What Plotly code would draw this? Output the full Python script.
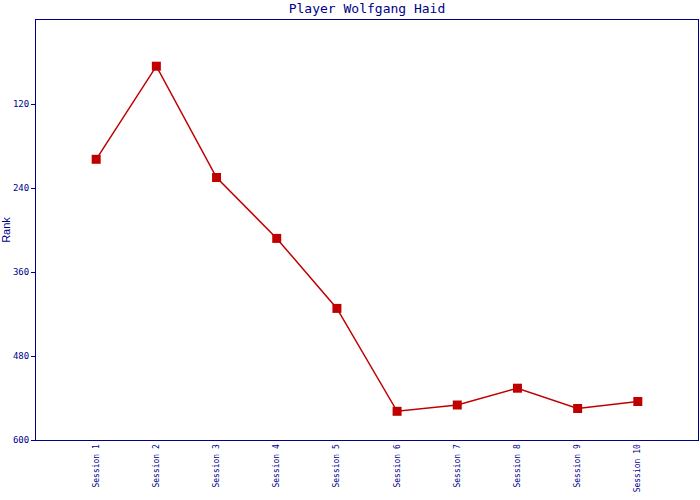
import plotly.graph_objects as go

sessions = ["Session 1", "Session 2", "Session 3", "Session 4", "Session 5",
            "Session 6", "Session 7", "Session 8", "Session 9", "Session 10"]
ranks = [199, 66, 225, 312, 412, 559, 550, 526, 555, 545]
y_ticks = [120, 240, 360, 480, 600]

navy = "#00008B"
red = "#C00000"

fig = go.Figure()
fig.add_trace(go.Scatter(
    x=list(range(len(sessions))), y=ranks, mode="lines+markers",
    line=dict(color=red, width=1.5),
    marker=dict(symbol="square", size=9, color=red),
    showlegend=False,
))

fig.update_layout(
    width=700, height=500,
    margin=dict(l=36, r=2, t=20, b=60),
    paper_bgcolor="white", plot_bgcolor="white",
    title=dict(text="Player Wolfgang Haid", xref="paper", x=0.5, xanchor="center",
               y=0.993, yanchor="top", pad=dict(t=0, b=0),
               font=dict(family="DejaVu Sans Mono", size=13, color=navy), automargin=False),
    xaxis=dict(
        range=[-1, 10], tickmode="array", tickvals=list(range(len(sessions))), ticktext=sessions,
        tickangle=-90, tickfont=dict(family="DejaVu Sans Mono", size=8, color=navy),
        showgrid=False, zeroline=False, showline=True, linecolor=navy, linewidth=1, mirror=True,
        ticks="", automargin=False,
    ),
    yaxis=dict(
        range=[600, 0], tickmode="array", tickvals=y_ticks,
        tickfont=dict(family="DejaVu Sans Mono", size=9, color=navy),
        showgrid=False, zeroline=False, showline=True, linecolor=navy, linewidth=1, mirror=True,
        ticks="outside", ticklen=4, tickcolor=navy, automargin=False,
        title=dict(text="Rank", font=dict(family="Liberation Sans", size=11, color=navy), standoff=4),
    ),
)

fig.write_html("out.html", config={"displayModeBar": False},
               post_script="document.body.style.margin='0';")
